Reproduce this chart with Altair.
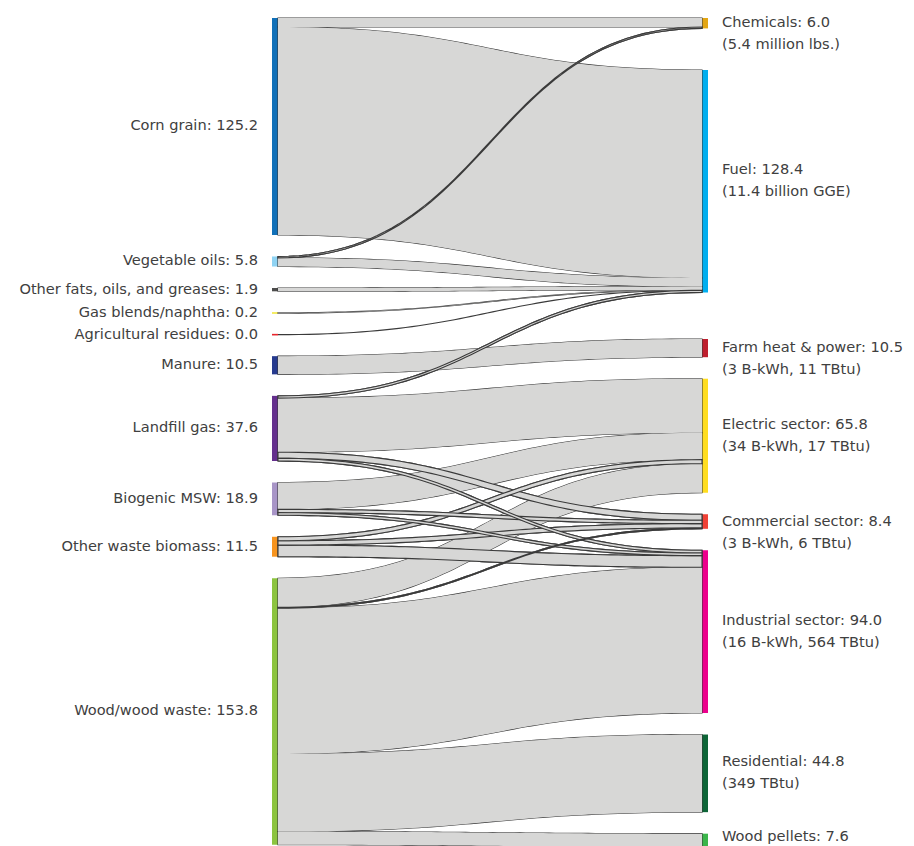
import altair as alt
import pandas as pd
import numpy as np

# ---------------- data ----------------
left_nodes = ["Corn grain", "Vegetable oils", "Other fats, oils, and greases",
              "Gas blends/naphtha", "Agricultural residues", "Manure",
              "Landfill gas", "Biogenic MSW", "Other waste biomass", "Wood/wood waste"]
left_values = [125.2, 5.8, 1.9, 0.2, 0.0, 10.5, 37.6, 18.9, 11.5, 153.8]
left_colors = ["#1170b8", "#8fd3f3", "#4d4d4d", "#f3e840", "#e8262c",
               "#263a8e", "#642f8d", "#a895c7", "#f7941e", "#8cc43f"]

right_nodes = ["Chemicals", "Fuel", "Farm heat & power", "Electric sector",
               "Commercial sector", "Industrial sector", "Residential", "Wood pellets"]
right_values = [6.0, 128.4, 10.5, 65.8, 8.4, 94.0, 44.8, 7.6]
right_notes = ["(5.4 million lbs.)", "(11.4 billion GGE)", "(3 B-kWh, 11 TBtu)",
               "(34 B-kWh, 17 TBtu)", "(3 B-kWh, 6 TBtu)", "(16 B-kWh, 564 TBtu)",
               "(349 TBtu)", ""]
right_colors = ["#e3a614", "#00aeef", "#be1e2d", "#ffdd1f", "#ef4136",
                "#ec008c", "#0d6537", "#3ab54a"]

link_source = ["Corn grain", "Corn grain", "Vegetable oils", "Vegetable oils",
               "Other fats, oils, and greases", "Gas blends/naphtha", "Agricultural residues",
               "Manure", "Landfill gas", "Landfill gas", "Landfill gas", "Landfill gas",
               "Biogenic MSW", "Biogenic MSW", "Biogenic MSW",
               "Other waste biomass", "Other waste biomass", "Other waste biomass",
               "Wood/wood waste", "Wood/wood waste", "Wood/wood waste",
               "Wood/wood waste", "Wood/wood waste"]
link_target = ["Chemicals", "Fuel", "Chemicals", "Fuel",
               "Fuel", "Fuel", "Fuel",
               "Farm heat & power", "Fuel", "Electric sector", "Commercial sector", "Industrial sector",
               "Electric sector", "Commercial sector", "Industrial sector",
               "Electric sector", "Commercial sector", "Industrial sector",
               "Electric sector", "Commercial sector", "Industrial sector",
               "Residential", "Wood pellets"]
link_value = [5.2, 120.0, 0.8, 5.0,
              1.9, 0.2, 0.0,
              10.5, 1.3, 31.2, 3.5, 1.6,
              15.5, 1.9, 1.5,
              2.3, 2.5, 6.7,
              16.8, 0.5, 84.1, 44.8, 7.6]

# ---------------- layout parameters (pixels) ----------------
W, H = 898, 838
PX = 1.733            # pixels per unit of value
TOP = 10              # top offset of first nodes
LEFT_GAPS = [21.5] * 9
RIGHT_GAPS = [41.6, 46.5, 21.5, 21.5, 21.5, 21.5, 21.5]
X_LINK0, X_LINK1 = 270, 694
BAR = 6
LINK_FILL = "#d7d7d6"
LINK_STROKE = "#3a3a3a"
FONT = "DejaVu Sans"
FS = 14.6
TXT = "#404040"
LABEL_MAX_Y = 829     # keep the lowest label inside the page

span = X_LINK1 - X_LINK0
b = BAR / span
xscale = alt.Scale(domain=[-X_LINK0 / span, (W - X_LINK0) / span], nice=False, zero=False)
yscale = alt.Scale(domain=[-TOP / PX, (H - TOP) / PX], reverse=True, nice=False, zero=False)

# node sizes from link sums
def node_size(name):
    out_v = sum(v for s, v in zip(link_source, link_value) if s == name)
    in_v = sum(v for t, v in zip(link_target, link_value) if t == name)
    return max(out_v, in_v)

def stack(nodes, gaps):
    pos = {}
    y = 0.0
    for i, n in enumerate(nodes):
        h = node_size(n)
        pos[n] = (y, y + h)
        y += h
        if i < len(gaps):
            y += gaps[i] / PX
    return pos

lpos = stack(left_nodes, LEFT_GAPS)
rpos = stack(right_nodes, RIGHT_GAPS)

# link positions at source/target
links = []
for i, (s, t, v) in enumerate(zip(link_source, link_target, link_value)):
    links.append(dict(id=i, s=s, t=t, v=v))
s_cursor = {n: lpos[n][0] for n in left_nodes}
for n in left_nodes:
    for L in sorted([l for l in links if l["s"] == n], key=lambda l: right_nodes.index(l["t"])):
        L["s0"] = s_cursor[n]; L["s1"] = s_cursor[n] + L["v"]; s_cursor[n] += L["v"]
t_cursor = {n: rpos[n][0] for n in right_nodes}
for n in right_nodes:
    for L in sorted([l for l in links if l["t"] == n], key=lambda l: left_nodes.index(l["s"])):
        L["t0"] = t_cursor[n]; L["t1"] = t_cursor[n] + L["v"]; t_cursor[n] += L["v"]

tt = np.linspace(0, 1, 60)
xs = 1.5 * tt * (1 - tt) ** 2 + 1.5 * tt ** 2 * (1 - tt) + tt ** 3
ease = 3 * tt ** 2 - 2 * tt ** 3

def link_rows(L):
    y0 = L["s0"] + (L["t0"] - L["s0"]) * ease
    y1 = L["s1"] + (L["t1"] - L["s1"]) * ease
    return pd.DataFrame({"link": L["id"], "x": xs, "y0": y0, "y1": y1})

all_links = pd.concat([link_rows(L) for L in links], ignore_index=True)

# links that are the thinner one of a crossing pair are drawn on top
top_ids = set()
for a in links:
    for c in links:
        if a["id"] >= c["id"] or a["s"] == c["s"] or a["t"] == c["t"]:
            continue
        sa = (a["s0"] + a["s1"]) / 2; sc = (c["s0"] + c["s1"]) / 2
        ta = (a["t0"] + a["t1"]) / 2; tc = (c["t0"] + c["t1"]) / 2
        if (sa - sc) * (ta - tc) < 0:
            thin = a if a["v"] < c["v"] else c
            top_ids.add(thin["id"])
top_links = sorted([l for l in links if l["id"] in top_ids], key=lambda l: -l["v"])

enc = dict(
    x=alt.X("x:Q", scale=xscale, axis=None),
    y=alt.Y("y0:Q", scale=yscale, axis=None, stack=None),
    y2="y1:Q",
    detail="link:N",
)

layer_stroke = alt.Chart(all_links).mark_area(
    orient="vertical", fill=LINK_FILL, stroke=LINK_STROKE, strokeWidth=1.1).encode(**enc)
layer_fill = alt.Chart(all_links).mark_area(
    orient="vertical", fill=LINK_FILL, strokeWidth=0).encode(**enc)
layers_top = [
    alt.Chart(link_rows(L)).mark_area(
        orient="vertical", fill=LINK_FILL, stroke=LINK_STROKE, strokeWidth=1.1).encode(**enc)
    for L in top_links
]

# nodes
MIN_H = 1.6 / PX
node_rows = []
for n, c in zip(left_nodes, left_colors):
    y0, y1 = lpos[n]
    if y1 - y0 < MIN_H:
        m = (y0 + y1) / 2; y0, y1 = m - MIN_H / 2, m + MIN_H / 2
    node_rows.append(dict(name=n, x0=-b, x1=0.0, y0=y0, y1=y1))
for n, c in zip(right_nodes, right_colors):
    y0, y1 = rpos[n]
    node_rows.append(dict(name=n, x0=1.0, x1=1.0 + b, y0=y0, y1=y1))
nodes_df = pd.DataFrame(node_rows)

node_layer = alt.Chart(nodes_df).mark_rect().encode(
    x=alt.X("x0:Q", scale=xscale, axis=None), x2="x1:Q",
    y=alt.Y("y0:Q", scale=yscale, axis=None), y2="y1:Q",
    color=alt.Color("name:N", scale=alt.Scale(domain=left_nodes + right_nodes,
                                              range=left_colors + right_colors), legend=None),
)

# labels
y_lab_max = (LABEL_MAX_Y - TOP) / PX
left_lab = pd.DataFrame({
    "x": [-b] * len(left_nodes),
    "y": [min((lpos[n][0] + lpos[n][1]) / 2, y_lab_max) for n in left_nodes],
    "text": [f"{n}: {v:.1f}" for n, v in zip(left_nodes, left_values)],
})
LINE = 22
r_rows = []
for n, v, note in zip(right_nodes, right_values, right_notes):
    y0, y1 = rpos[n]
    c = (y0 + y1) / 2
    if (y1 - y0) * PX < 40:
        l1, l2 = c, c + LINE / PX
    else:
        l1, l2 = c - (LINE / 2) / PX, c + (LINE / 2) / PX
    r_rows.append(dict(x=1 + b, y=min(l1, y_lab_max), text=f"{n}: {v:.1f}"))
    if note:
        r_rows.append(dict(x=1 + b, y=min(l2, y_lab_max), text=note))
right_lab = pd.DataFrame(r_rows)

left_text = alt.Chart(left_lab).mark_text(
    align="right", baseline="middle", dx=-14, font=FONT, fontSize=FS, color=TXT).encode(
    x=alt.X("x:Q", scale=xscale, axis=None), y=alt.Y("y:Q", scale=yscale, axis=None), text="text:N")
right_text = alt.Chart(right_lab).mark_text(
    align="left", baseline="middle", dx=14, font=FONT, fontSize=FS, color=TXT).encode(
    x=alt.X("x:Q", scale=xscale, axis=None), y=alt.Y("y:Q", scale=yscale, axis=None), text="text:N")

chart = alt.layer(node_layer, layer_stroke, layer_fill, *layers_top, left_text, right_text).properties(
    width=W, height=H, padding=0, autosize=alt.AutoSizeParams(type="none"),
).configure_view(stroke=None)

chart.save("out.html", embed_options={"renderer": "svg", "actions": False})
